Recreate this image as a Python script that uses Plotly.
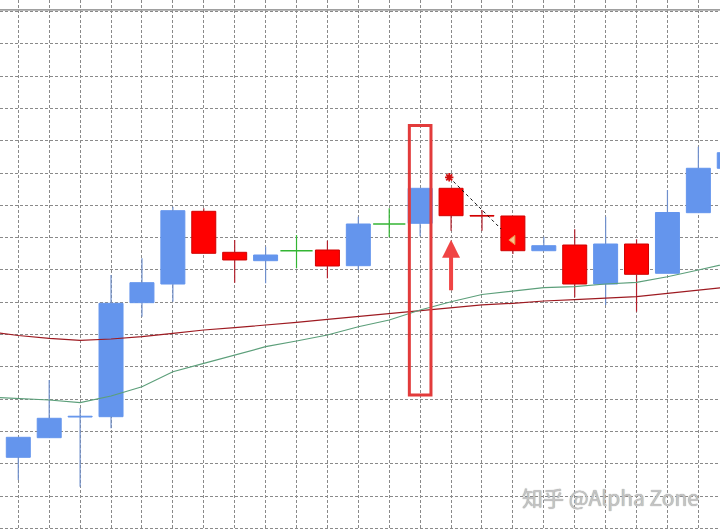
import plotly.graph_objects as go

# ---------------- data (price in chart grid units) ----------------
idx = list(range(24))
opens = [2.198, 2.805, 3.445, 3.455, 6.985, 7.563, 9.814, 8.545, 8.285, 8.594, 8.616, 8.130,
         9.421, 9.443, 10.526, 9.685, 9.669, 8.594, 8.771, 7.563, 8.802, 7.895, 9.771, 11.146]
highs = [2.817, 4.591, 3.724, 7.842, 8.359, 9.957, 9.907, 8.926, 8.718, 9.080, 8.904, 9.647,
         9.907, 10.526, 10.526, 9.854, 9.669, 9.028, 9.257, 9.647, 8.947, 10.474, 11.814, 11.628]
lows = [1.495, 2.805, 1.288, 3.096, 6.551, 7.015, 8.514, 7.604, 7.585, 8.050, 7.740, 7.997,
        9.009, 9.040, 9.214, 9.214, 8.492, 8.594, 7.152, 6.913, 6.706, 7.895, 9.771, 11.146]
closes = [2.817, 3.406, 3.470, 6.966, 7.604, 9.833, 8.514, 8.307, 8.461, 8.594, 8.121, 9.421,
          9.421, 10.526, 9.678, 9.665, 8.594, 8.749, 7.563, 8.802, 7.864, 9.777, 11.146, 11.628]

ma_idx = list(range(-1, 24))
ma_slow = [6.093, 5.969, 5.882, 5.820, 5.861, 5.932, 6.037, 6.139, 6.211, 6.288, 6.378, 6.467,
           6.557, 6.647, 6.737, 6.827, 6.920, 6.966, 7.037, 7.077, 7.121, 7.170, 7.276, 7.378, 7.471]
ma_fast = [4.065, 4.019, 3.972, 3.889, 4.096, 4.384, 4.848, 5.108, 5.365, 5.622, 5.799, 5.985,
           6.241, 6.449, 6.759, 7.015, 7.238, 7.347, 7.449, 7.480, 7.563, 7.616, 7.789, 7.997, 8.214]

# trade marks
trade_x = [13.94, 15.62]
trade_y = [10.867, 9.266]
exit_x = [16.0]
exit_y = [8.926]

# ---------------- styles ----------------
BULL = "#6495ED"
BULL_WICK = "#6f8fcc"
BEAR = "#FF0000"
BEAR_WICK = "#b3202c"
DOJI = "#33b533"
GRID = "#8a8a8a"
BODY_W = 0.776

fig = go.Figure()

# bodies
b_x, b_base, b_h, b_col, b_line = [], [], [], [], []
d_x, d_y = [], []
wx = {"bull": [], "bear": [], "doji": []}
wy = {"bull": [], "bear": [], "doji": []}
for i, o, h, l, c in zip(idx, opens, highs, lows, closes):
    if o == c:
        d_x.append(i)
        d_y.append(c)
        wx["doji"] += [i, i, None]
        wy["doji"] += [l, h, None]
        continue
    kind = "bull" if c > o else "bear"
    top, bot = max(o, c), min(o, c)
    b_x.append(i)
    b_base.append(bot)
    b_h.append(top - bot)
    b_col.append(BULL if kind == "bull" else BEAR)
    b_line.append(BULL if kind == "bull" else "#d00000")
    if h > top:
        wx[kind] += [i, i, None]
        wy[kind] += [top, h, None]
    if l < bot:
        wx[kind] += [i, i, None]
        wy[kind] += [l, bot, None]

fig.add_trace(go.Bar(x=b_x, y=b_h, base=b_base, width=BODY_W,
                     marker=dict(color=b_col, line=dict(color=b_line, width=1)),
                     hoverinfo="skip"))

for kind, col in (("bull", BULL_WICK), ("bear", BEAR_WICK), ("doji", DOJI)):
    fig.add_trace(go.Scatter(x=wx[kind], y=wy[kind], mode="lines",
                             line=dict(color=col, width=1.2), hoverinfo="skip"))

fig.add_trace(go.Scatter(x=d_x, y=d_y, mode="markers",
                         marker=dict(symbol="line-ew", size=23, color=DOJI,
                                     line=dict(color=DOJI, width=1.4)),
                         hoverinfo="skip"))

# moving averages
fig.add_trace(go.Scatter(x=ma_idx, y=ma_slow, mode="lines",
                         line=dict(color="#9e1b22", width=1.2), hoverinfo="skip"))
fig.add_trace(go.Scatter(x=ma_idx, y=ma_fast, mode="lines",
                         line=dict(color="#5c9f7a", width=1.2), hoverinfo="skip"))

# trade line
fig.add_trace(go.Scatter(x=trade_x, y=trade_y, mode="lines",
                         line=dict(color="#111111", width=1, dash="3px,3px"),
                         hoverinfo="skip"))
fig.add_trace(go.Scatter(x=trade_x[:1], y=trade_y[:1], mode="markers",
                         marker=dict(symbol="asterisk-open", size=7, color="#d01010",
                                     line=dict(color="#d01010", width=1.8)),
                         hoverinfo="skip"))
fig.add_trace(go.Scatter(x=exit_x, y=exit_y, mode="markers",
                         marker=dict(symbol="triangle-left", size=8, color="#f7c48f",
                                     line=dict(color="#e8954a", width=1)),
                         hoverinfo="skip"))

# highlight rectangle
fig.add_shape(type="rect", xref="x", yref="y", x0=12.65, x1=13.35, y0=4.13, y1=12.47,
              line=dict(color="#e23b3b", width=3), fillcolor="rgba(0,0,0,0)", layer="above")
# top frame line
fig.add_shape(type="line", xref="paper", yref="y", x0=0, x1=1, y0=16.05, y1=16.05,
              line=dict(color="#a0a0a0", width=1.6), layer="above")

# red arrow
fig.add_annotation(x=14, y=8.93, ax=14, ay=7.32, xref="x", yref="y", axref="x", ayref="y",
                   showarrow=True, arrowhead=2, arrowsize=0.9, arrowwidth=4,
                   arrowcolor="#f04444", text="")

# watermark
fig.add_annotation(text="知乎 @Alpha Zone", xref="paper", yref="paper", x=0.8486, y=0.0628,
                   showarrow=False, xanchor="center", yanchor="middle",
                   font=dict(family="Noto Sans CJK SC, Liberation Sans, sans-serif", size=21,
                             color="#c4c4c4", shadow="0px 0px 1px #8a8a8a"))

fig.update_layout(
    width=720, height=530, margin=dict(l=0, r=0, t=0, b=0),
    paper_bgcolor="white", plot_bgcolor="white", showlegend=False,
    xaxis=dict(range=[-0.592, 22.70], dtick=1, tick0=0, showgrid=True, gridcolor=GRID,
               griddash="3px,2px", gridwidth=1, zeroline=False, showticklabels=False,
               ticks="", showline=False, fixedrange=True),
    yaxis=dict(range=[-0.0526, 16.356], dtick=1, tick0=0, showgrid=True, gridcolor=GRID,
               griddash="3px,2px", gridwidth=1, zeroline=False, showticklabels=False,
               ticks="", showline=False, fixedrange=True),
)

fig.write_html("out.html", config={"displayModeBar": False},
               post_script="document.body.style.margin='0';document.body.style.overflow='hidden';")
